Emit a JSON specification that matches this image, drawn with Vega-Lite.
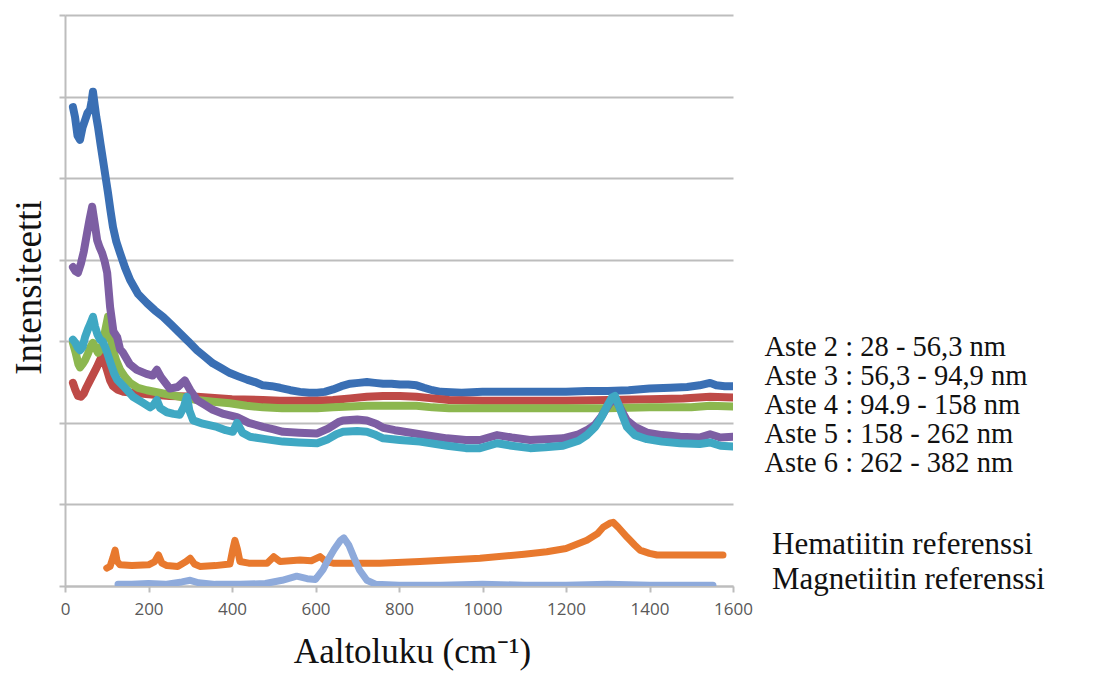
{
  "$schema": "https://vega.github.io/schema/vega-lite/v6.json",
  "width": 668,
  "height": 571,
  "autosize": {"type": "none"},
  "padding": {"left": 65, "top": 15, "right": 368, "bottom": 87},
  "background": "white",
  "config": {"view": {"stroke": null}},
  "datasets": {
    "aste": [
      {"s":"Aste 2 : 28 - 56,3 nm","x":19,"y":5.87},{"s":"Aste 2 : 28 - 56,3 nm","x":24,"y":5.75},{"s":"Aste 2 : 28 - 56,3 nm","x":30,"y":5.52},{"s":"Aste 2 : 28 - 56,3 nm","x":36,"y":5.47},{"s":"Aste 2 : 28 - 56,3 nm","x":42,"y":5.62},{"s":"Aste 2 : 28 - 56,3 nm","x":48,"y":5.71},{"s":"Aste 2 : 28 - 56,3 nm","x":54,"y":5.8},{"s":"Aste 2 : 28 - 56,3 nm","x":60,"y":5.84},{"s":"Aste 2 : 28 - 56,3 nm","x":64,"y":5.95},{"s":"Aste 2 : 28 - 56,3 nm","x":67,"y":6.06},{"s":"Aste 2 : 28 - 56,3 nm","x":71,"y":5.9},{"s":"Aste 2 : 28 - 56,3 nm","x":75,"y":5.75},{"s":"Aste 2 : 28 - 56,3 nm","x":79,"y":5.63},{"s":"Aste 2 : 28 - 56,3 nm","x":85,"y":5.42},{"s":"Aste 2 : 28 - 56,3 nm","x":91,"y":5.22},{"s":"Aste 2 : 28 - 56,3 nm","x":97,"y":5.02},{"s":"Aste 2 : 28 - 56,3 nm","x":103,"y":4.82},{"s":"Aste 2 : 28 - 56,3 nm","x":109,"y":4.6},{"s":"Aste 2 : 28 - 56,3 nm","x":115,"y":4.4},{"s":"Aste 2 : 28 - 56,3 nm","x":123,"y":4.22},{"s":"Aste 2 : 28 - 56,3 nm","x":132,"y":4.08},{"s":"Aste 2 : 28 - 56,3 nm","x":144,"y":3.9},{"s":"Aste 2 : 28 - 56,3 nm","x":156,"y":3.75},{"s":"Aste 2 : 28 - 56,3 nm","x":175,"y":3.58},{"s":"Aste 2 : 28 - 56,3 nm","x":196,"y":3.47},{"s":"Aste 2 : 28 - 56,3 nm","x":215,"y":3.38},{"s":"Aste 2 : 28 - 56,3 nm","x":235,"y":3.3},{"s":"Aste 2 : 28 - 56,3 nm","x":255,"y":3.2},{"s":"Aste 2 : 28 - 56,3 nm","x":275,"y":3.1},{"s":"Aste 2 : 28 - 56,3 nm","x":295,"y":3.0},{"s":"Aste 2 : 28 - 56,3 nm","x":316,"y":2.89},{"s":"Aste 2 : 28 - 56,3 nm","x":335,"y":2.81},{"s":"Aste 2 : 28 - 56,3 nm","x":354,"y":2.73},{"s":"Aste 2 : 28 - 56,3 nm","x":375,"y":2.67},{"s":"Aste 2 : 28 - 56,3 nm","x":395,"y":2.61},{"s":"Aste 2 : 28 - 56,3 nm","x":415,"y":2.57},{"s":"Aste 2 : 28 - 56,3 nm","x":436,"y":2.53},{"s":"Aste 2 : 28 - 56,3 nm","x":455,"y":2.5},{"s":"Aste 2 : 28 - 56,3 nm","x":474,"y":2.46},{"s":"Aste 2 : 28 - 56,3 nm","x":495,"y":2.45},{"s":"Aste 2 : 28 - 56,3 nm","x":515,"y":2.43},{"s":"Aste 2 : 28 - 56,3 nm","x":540,"y":2.4},{"s":"Aste 2 : 28 - 56,3 nm","x":563,"y":2.38},{"s":"Aste 2 : 28 - 56,3 nm","x":585,"y":2.37},{"s":"Aste 2 : 28 - 56,3 nm","x":604,"y":2.37},{"s":"Aste 2 : 28 - 56,3 nm","x":622,"y":2.38},{"s":"Aste 2 : 28 - 56,3 nm","x":642,"y":2.41},{"s":"Aste 2 : 28 - 56,3 nm","x":662,"y":2.45},{"s":"Aste 2 : 28 - 56,3 nm","x":683,"y":2.48},{"s":"Aste 2 : 28 - 56,3 nm","x":703,"y":2.49},{"s":"Aste 2 : 28 - 56,3 nm","x":723,"y":2.5},{"s":"Aste 2 : 28 - 56,3 nm","x":742,"y":2.49},{"s":"Aste 2 : 28 - 56,3 nm","x":762,"y":2.48},{"s":"Aste 2 : 28 - 56,3 nm","x":782,"y":2.48},{"s":"Aste 2 : 28 - 56,3 nm","x":802,"y":2.47},{"s":"Aste 2 : 28 - 56,3 nm","x":822,"y":2.47},{"s":"Aste 2 : 28 - 56,3 nm","x":842,"y":2.46},{"s":"Aste 2 : 28 - 56,3 nm","x":860,"y":2.43},{"s":"Aste 2 : 28 - 56,3 nm","x":880,"y":2.4},{"s":"Aste 2 : 28 - 56,3 nm","x":900,"y":2.38},{"s":"Aste 2 : 28 - 56,3 nm","x":950,"y":2.37},{"s":"Aste 2 : 28 - 56,3 nm","x":1000,"y":2.38},{"s":"Aste 2 : 28 - 56,3 nm","x":1050,"y":2.38},{"s":"Aste 2 : 28 - 56,3 nm","x":1100,"y":2.38},{"s":"Aste 2 : 28 - 56,3 nm","x":1150,"y":2.38},{"s":"Aste 2 : 28 - 56,3 nm","x":1200,"y":2.38},{"s":"Aste 2 : 28 - 56,3 nm","x":1250,"y":2.39},{"s":"Aste 2 : 28 - 56,3 nm","x":1300,"y":2.39},{"s":"Aste 2 : 28 - 56,3 nm","x":1350,"y":2.4},{"s":"Aste 2 : 28 - 56,3 nm","x":1400,"y":2.42},{"s":"Aste 2 : 28 - 56,3 nm","x":1450,"y":2.43},{"s":"Aste 2 : 28 - 56,3 nm","x":1490,"y":2.44},{"s":"Aste 2 : 28 - 56,3 nm","x":1520,"y":2.46},{"s":"Aste 2 : 28 - 56,3 nm","x":1545,"y":2.49},{"s":"Aste 2 : 28 - 56,3 nm","x":1560,"y":2.46},{"s":"Aste 2 : 28 - 56,3 nm","x":1580,"y":2.45},{"s":"Aste 2 : 28 - 56,3 nm","x":1600,"y":2.45},

      {"s":"Aste 3 : 56,3 - 94,9 nm","x":19,"y":2.49},{"s":"Aste 3 : 56,3 - 94,9 nm","x":25,"y":2.4},{"s":"Aste 3 : 56,3 - 94,9 nm","x":31,"y":2.33},{"s":"Aste 3 : 56,3 - 94,9 nm","x":38,"y":2.32},{"s":"Aste 3 : 56,3 - 94,9 nm","x":45,"y":2.36},{"s":"Aste 3 : 56,3 - 94,9 nm","x":52,"y":2.44},{"s":"Aste 3 : 56,3 - 94,9 nm","x":60,"y":2.52},{"s":"Aste 3 : 56,3 - 94,9 nm","x":68,"y":2.6},{"s":"Aste 3 : 56,3 - 94,9 nm","x":76,"y":2.68},{"s":"Aste 3 : 56,3 - 94,9 nm","x":83,"y":2.76},{"s":"Aste 3 : 56,3 - 94,9 nm","x":89,"y":2.82},{"s":"Aste 3 : 56,3 - 94,9 nm","x":95,"y":2.74},{"s":"Aste 3 : 56,3 - 94,9 nm","x":101,"y":2.64},{"s":"Aste 3 : 56,3 - 94,9 nm","x":108,"y":2.52},{"s":"Aste 3 : 56,3 - 94,9 nm","x":115,"y":2.45},{"s":"Aste 3 : 56,3 - 94,9 nm","x":125,"y":2.41},{"s":"Aste 3 : 56,3 - 94,9 nm","x":140,"y":2.38},{"s":"Aste 3 : 56,3 - 94,9 nm","x":163,"y":2.37},{"s":"Aste 3 : 56,3 - 94,9 nm","x":200,"y":2.35},{"s":"Aste 3 : 56,3 - 94,9 nm","x":250,"y":2.33},{"s":"Aste 3 : 56,3 - 94,9 nm","x":316,"y":2.32},{"s":"Aste 3 : 56,3 - 94,9 nm","x":400,"y":2.29},{"s":"Aste 3 : 56,3 - 94,9 nm","x":474,"y":2.28},{"s":"Aste 3 : 56,3 - 94,9 nm","x":515,"y":2.27},{"s":"Aste 3 : 56,3 - 94,9 nm","x":563,"y":2.27},{"s":"Aste 3 : 56,3 - 94,9 nm","x":604,"y":2.27},{"s":"Aste 3 : 56,3 - 94,9 nm","x":642,"y":2.28},{"s":"Aste 3 : 56,3 - 94,9 nm","x":683,"y":2.3},{"s":"Aste 3 : 56,3 - 94,9 nm","x":723,"y":2.32},{"s":"Aste 3 : 56,3 - 94,9 nm","x":762,"y":2.33},{"s":"Aste 3 : 56,3 - 94,9 nm","x":802,"y":2.33},{"s":"Aste 3 : 56,3 - 94,9 nm","x":842,"y":2.32},{"s":"Aste 3 : 56,3 - 94,9 nm","x":880,"y":2.3},{"s":"Aste 3 : 56,3 - 94,9 nm","x":920,"y":2.28},{"s":"Aste 3 : 56,3 - 94,9 nm","x":1000,"y":2.27},{"s":"Aste 3 : 56,3 - 94,9 nm","x":1100,"y":2.27},{"s":"Aste 3 : 56,3 - 94,9 nm","x":1200,"y":2.27},{"s":"Aste 3 : 56,3 - 94,9 nm","x":1300,"y":2.28},{"s":"Aste 3 : 56,3 - 94,9 nm","x":1400,"y":2.29},{"s":"Aste 3 : 56,3 - 94,9 nm","x":1480,"y":2.3},{"s":"Aste 3 : 56,3 - 94,9 nm","x":1545,"y":2.32},{"s":"Aste 3 : 56,3 - 94,9 nm","x":1600,"y":2.31},

      {"s":"Aste 4 : 94.9 - 158 nm","x":19,"y":2.98},{"s":"Aste 4 : 94.9 - 158 nm","x":26,"y":2.85},{"s":"Aste 4 : 94.9 - 158 nm","x":32,"y":2.72},{"s":"Aste 4 : 94.9 - 158 nm","x":36,"y":2.68},{"s":"Aste 4 : 94.9 - 158 nm","x":42,"y":2.72},{"s":"Aste 4 : 94.9 - 158 nm","x":48,"y":2.77},{"s":"Aste 4 : 94.9 - 158 nm","x":55,"y":2.85},{"s":"Aste 4 : 94.9 - 158 nm","x":61,"y":2.93},{"s":"Aste 4 : 94.9 - 158 nm","x":67,"y":2.98},{"s":"Aste 4 : 94.9 - 158 nm","x":73,"y":2.92},{"s":"Aste 4 : 94.9 - 158 nm","x":79,"y":2.86},{"s":"Aste 4 : 94.9 - 158 nm","x":85,"y":2.9},{"s":"Aste 4 : 94.9 - 158 nm","x":91,"y":2.98},{"s":"Aste 4 : 94.9 - 158 nm","x":97,"y":3.15},{"s":"Aste 4 : 94.9 - 158 nm","x":103,"y":3.3},{"s":"Aste 4 : 94.9 - 158 nm","x":108,"y":3.1},{"s":"Aste 4 : 94.9 - 158 nm","x":115,"y":2.89},{"s":"Aste 4 : 94.9 - 158 nm","x":123,"y":2.76},{"s":"Aste 4 : 94.9 - 158 nm","x":132,"y":2.65},{"s":"Aste 4 : 94.9 - 158 nm","x":144,"y":2.56},{"s":"Aste 4 : 94.9 - 158 nm","x":156,"y":2.49},{"s":"Aste 4 : 94.9 - 158 nm","x":175,"y":2.43},{"s":"Aste 4 : 94.9 - 158 nm","x":196,"y":2.4},{"s":"Aste 4 : 94.9 - 158 nm","x":235,"y":2.36},{"s":"Aste 4 : 94.9 - 158 nm","x":275,"y":2.32},{"s":"Aste 4 : 94.9 - 158 nm","x":316,"y":2.28},{"s":"Aste 4 : 94.9 - 158 nm","x":355,"y":2.26},{"s":"Aste 4 : 94.9 - 158 nm","x":395,"y":2.24},{"s":"Aste 4 : 94.9 - 158 nm","x":435,"y":2.21},{"s":"Aste 4 : 94.9 - 158 nm","x":474,"y":2.19},{"s":"Aste 4 : 94.9 - 158 nm","x":520,"y":2.18},{"s":"Aste 4 : 94.9 - 158 nm","x":563,"y":2.18},{"s":"Aste 4 : 94.9 - 158 nm","x":604,"y":2.18},{"s":"Aste 4 : 94.9 - 158 nm","x":642,"y":2.19},{"s":"Aste 4 : 94.9 - 158 nm","x":683,"y":2.2},{"s":"Aste 4 : 94.9 - 158 nm","x":723,"y":2.21},{"s":"Aste 4 : 94.9 - 158 nm","x":762,"y":2.21},{"s":"Aste 4 : 94.9 - 158 nm","x":802,"y":2.21},{"s":"Aste 4 : 94.9 - 158 nm","x":842,"y":2.21},{"s":"Aste 4 : 94.9 - 158 nm","x":880,"y":2.19},{"s":"Aste 4 : 94.9 - 158 nm","x":920,"y":2.18},{"s":"Aste 4 : 94.9 - 158 nm","x":1000,"y":2.18},{"s":"Aste 4 : 94.9 - 158 nm","x":1100,"y":2.18},{"s":"Aste 4 : 94.9 - 158 nm","x":1200,"y":2.18},{"s":"Aste 4 : 94.9 - 158 nm","x":1300,"y":2.18},{"s":"Aste 4 : 94.9 - 158 nm","x":1400,"y":2.19},{"s":"Aste 4 : 94.9 - 158 nm","x":1500,"y":2.19},{"s":"Aste 4 : 94.9 - 158 nm","x":1545,"y":2.21},{"s":"Aste 4 : 94.9 - 158 nm","x":1600,"y":2.2},

      {"s":"Aste 5 : 158 - 262 nm","x":19,"y":3.91},{"s":"Aste 5 : 158 - 262 nm","x":25,"y":3.86},{"s":"Aste 5 : 158 - 262 nm","x":31,"y":3.84},{"s":"Aste 5 : 158 - 262 nm","x":38,"y":3.95},{"s":"Aste 5 : 158 - 262 nm","x":45,"y":4.1},{"s":"Aste 5 : 158 - 262 nm","x":53,"y":4.33},{"s":"Aste 5 : 158 - 262 nm","x":59,"y":4.5},{"s":"Aste 5 : 158 - 262 nm","x":65,"y":4.65},{"s":"Aste 5 : 158 - 262 nm","x":71,"y":4.45},{"s":"Aste 5 : 158 - 262 nm","x":77,"y":4.24},{"s":"Aste 5 : 158 - 262 nm","x":83,"y":4.15},{"s":"Aste 5 : 158 - 262 nm","x":89,"y":4.08},{"s":"Aste 5 : 158 - 262 nm","x":95,"y":3.98},{"s":"Aste 5 : 158 - 262 nm","x":101,"y":3.84},{"s":"Aste 5 : 158 - 262 nm","x":108,"y":3.42},{"s":"Aste 5 : 158 - 262 nm","x":116,"y":3.12},{"s":"Aste 5 : 158 - 262 nm","x":125,"y":3.05},{"s":"Aste 5 : 158 - 262 nm","x":132,"y":2.9},{"s":"Aste 5 : 158 - 262 nm","x":139,"y":2.86},{"s":"Aste 5 : 158 - 262 nm","x":155,"y":2.72},{"s":"Aste 5 : 158 - 262 nm","x":172,"y":2.65},{"s":"Aste 5 : 158 - 262 nm","x":195,"y":2.6},{"s":"Aste 5 : 158 - 262 nm","x":210,"y":2.58},{"s":"Aste 5 : 158 - 262 nm","x":220,"y":2.65},{"s":"Aste 5 : 158 - 262 nm","x":230,"y":2.56},{"s":"Aste 5 : 158 - 262 nm","x":251,"y":2.42},{"s":"Aste 5 : 158 - 262 nm","x":270,"y":2.44},{"s":"Aste 5 : 158 - 262 nm","x":287,"y":2.52},{"s":"Aste 5 : 158 - 262 nm","x":300,"y":2.4},{"s":"Aste 5 : 158 - 262 nm","x":316,"y":2.28},{"s":"Aste 5 : 158 - 262 nm","x":335,"y":2.22},{"s":"Aste 5 : 158 - 262 nm","x":354,"y":2.16},{"s":"Aste 5 : 158 - 262 nm","x":380,"y":2.11},{"s":"Aste 5 : 158 - 262 nm","x":412,"y":2.07},{"s":"Aste 5 : 158 - 262 nm","x":440,"y":2.0},{"s":"Aste 5 : 158 - 262 nm","x":474,"y":1.95},{"s":"Aste 5 : 158 - 262 nm","x":500,"y":1.92},{"s":"Aste 5 : 158 - 262 nm","x":522,"y":1.89},{"s":"Aste 5 : 158 - 262 nm","x":560,"y":1.88},{"s":"Aste 5 : 158 - 262 nm","x":604,"y":1.87},{"s":"Aste 5 : 158 - 262 nm","x":630,"y":1.93},{"s":"Aste 5 : 158 - 262 nm","x":655,"y":2.01},{"s":"Aste 5 : 158 - 262 nm","x":666,"y":2.03},{"s":"Aste 5 : 158 - 262 nm","x":700,"y":2.04},{"s":"Aste 5 : 158 - 262 nm","x":723,"y":2.03},{"s":"Aste 5 : 158 - 262 nm","x":745,"y":1.99},{"s":"Aste 5 : 158 - 262 nm","x":762,"y":1.94},{"s":"Aste 5 : 158 - 262 nm","x":790,"y":1.91},{"s":"Aste 5 : 158 - 262 nm","x":802,"y":1.9},{"s":"Aste 5 : 158 - 262 nm","x":850,"y":1.86},{"s":"Aste 5 : 158 - 262 nm","x":915,"y":1.81},{"s":"Aste 5 : 158 - 262 nm","x":960,"y":1.79},{"s":"Aste 5 : 158 - 262 nm","x":994,"y":1.79},{"s":"Aste 5 : 158 - 262 nm","x":1035,"y":1.85},{"s":"Aste 5 : 158 - 262 nm","x":1070,"y":1.82},{"s":"Aste 5 : 158 - 262 nm","x":1114,"y":1.79},{"s":"Aste 5 : 158 - 262 nm","x":1150,"y":1.8},{"s":"Aste 5 : 158 - 262 nm","x":1193,"y":1.81},{"s":"Aste 5 : 158 - 262 nm","x":1230,"y":1.86},{"s":"Aste 5 : 158 - 262 nm","x":1250,"y":1.91},{"s":"Aste 5 : 158 - 262 nm","x":1270,"y":1.98},{"s":"Aste 5 : 158 - 262 nm","x":1285,"y":2.08},{"s":"Aste 5 : 158 - 262 nm","x":1298,"y":2.19},{"s":"Aste 5 : 158 - 262 nm","x":1310,"y":2.28},{"s":"Aste 5 : 158 - 262 nm","x":1317,"y":2.3},{"s":"Aste 5 : 158 - 262 nm","x":1326,"y":2.22},{"s":"Aste 5 : 158 - 262 nm","x":1336,"y":2.12},{"s":"Aste 5 : 158 - 262 nm","x":1346,"y":2.03},{"s":"Aste 5 : 158 - 262 nm","x":1365,"y":1.95},{"s":"Aste 5 : 158 - 262 nm","x":1394,"y":1.88},{"s":"Aste 5 : 158 - 262 nm","x":1430,"y":1.85},{"s":"Aste 5 : 158 - 262 nm","x":1473,"y":1.83},{"s":"Aste 5 : 158 - 262 nm","x":1520,"y":1.82},{"s":"Aste 5 : 158 - 262 nm","x":1545,"y":1.86},{"s":"Aste 5 : 158 - 262 nm","x":1570,"y":1.82},{"s":"Aste 5 : 158 - 262 nm","x":1600,"y":1.83},

      {"s":"Aste 6 : 262 - 382 nm","x":19,"y":3.02},{"s":"Aste 6 : 262 - 382 nm","x":25,"y":2.98},{"s":"Aste 6 : 262 - 382 nm","x":31,"y":2.92},{"s":"Aste 6 : 262 - 382 nm","x":36,"y":2.89},{"s":"Aste 6 : 262 - 382 nm","x":42,"y":2.93},{"s":"Aste 6 : 262 - 382 nm","x":48,"y":3.05},{"s":"Aste 6 : 262 - 382 nm","x":55,"y":3.15},{"s":"Aste 6 : 262 - 382 nm","x":61,"y":3.22},{"s":"Aste 6 : 262 - 382 nm","x":67,"y":3.3},{"s":"Aste 6 : 262 - 382 nm","x":72,"y":3.18},{"s":"Aste 6 : 262 - 382 nm","x":78,"y":3.08},{"s":"Aste 6 : 262 - 382 nm","x":84,"y":3.02},{"s":"Aste 6 : 262 - 382 nm","x":90,"y":3.0},{"s":"Aste 6 : 262 - 382 nm","x":96,"y":2.93},{"s":"Aste 6 : 262 - 382 nm","x":101,"y":2.86},{"s":"Aste 6 : 262 - 382 nm","x":110,"y":2.72},{"s":"Aste 6 : 262 - 382 nm","x":118,"y":2.6},{"s":"Aste 6 : 262 - 382 nm","x":125,"y":2.53},{"s":"Aste 6 : 262 - 382 nm","x":140,"y":2.45},{"s":"Aste 6 : 262 - 382 nm","x":163,"y":2.32},{"s":"Aste 6 : 262 - 382 nm","x":185,"y":2.25},{"s":"Aste 6 : 262 - 382 nm","x":204,"y":2.19},{"s":"Aste 6 : 262 - 382 nm","x":212,"y":2.22},{"s":"Aste 6 : 262 - 382 nm","x":220,"y":2.28},{"s":"Aste 6 : 262 - 382 nm","x":228,"y":2.18},{"s":"Aste 6 : 262 - 382 nm","x":244,"y":2.13},{"s":"Aste 6 : 262 - 382 nm","x":260,"y":2.11},{"s":"Aste 6 : 262 - 382 nm","x":275,"y":2.1},{"s":"Aste 6 : 262 - 382 nm","x":285,"y":2.2},{"s":"Aste 6 : 262 - 382 nm","x":292,"y":2.32},{"s":"Aste 6 : 262 - 382 nm","x":298,"y":2.15},{"s":"Aste 6 : 262 - 382 nm","x":307,"y":2.03},{"s":"Aste 6 : 262 - 382 nm","x":330,"y":1.99},{"s":"Aste 6 : 262 - 382 nm","x":364,"y":1.95},{"s":"Aste 6 : 262 - 382 nm","x":385,"y":1.91},{"s":"Aste 6 : 262 - 382 nm","x":402,"y":1.89},{"s":"Aste 6 : 262 - 382 nm","x":412,"y":2.0},{"s":"Aste 6 : 262 - 382 nm","x":425,"y":1.88},{"s":"Aste 6 : 262 - 382 nm","x":443,"y":1.83},{"s":"Aste 6 : 262 - 382 nm","x":480,"y":1.8},{"s":"Aste 6 : 262 - 382 nm","x":522,"y":1.77},{"s":"Aste 6 : 262 - 382 nm","x":560,"y":1.76},{"s":"Aste 6 : 262 - 382 nm","x":604,"y":1.75},{"s":"Aste 6 : 262 - 382 nm","x":630,"y":1.8},{"s":"Aste 6 : 262 - 382 nm","x":650,"y":1.86},{"s":"Aste 6 : 262 - 382 nm","x":666,"y":1.89},{"s":"Aste 6 : 262 - 382 nm","x":700,"y":1.9},{"s":"Aste 6 : 262 - 382 nm","x":723,"y":1.89},{"s":"Aste 6 : 262 - 382 nm","x":745,"y":1.85},{"s":"Aste 6 : 262 - 382 nm","x":762,"y":1.81},{"s":"Aste 6 : 262 - 382 nm","x":802,"y":1.79},{"s":"Aste 6 : 262 - 382 nm","x":850,"y":1.77},{"s":"Aste 6 : 262 - 382 nm","x":915,"y":1.72},{"s":"Aste 6 : 262 - 382 nm","x":960,"y":1.69},{"s":"Aste 6 : 262 - 382 nm","x":994,"y":1.69},{"s":"Aste 6 : 262 - 382 nm","x":1035,"y":1.75},{"s":"Aste 6 : 262 - 382 nm","x":1070,"y":1.72},{"s":"Aste 6 : 262 - 382 nm","x":1114,"y":1.69},{"s":"Aste 6 : 262 - 382 nm","x":1150,"y":1.7},{"s":"Aste 6 : 262 - 382 nm","x":1193,"y":1.72},{"s":"Aste 6 : 262 - 382 nm","x":1230,"y":1.78},{"s":"Aste 6 : 262 - 382 nm","x":1250,"y":1.85},{"s":"Aste 6 : 262 - 382 nm","x":1270,"y":1.95},{"s":"Aste 6 : 262 - 382 nm","x":1285,"y":2.07},{"s":"Aste 6 : 262 - 382 nm","x":1298,"y":2.2},{"s":"Aste 6 : 262 - 382 nm","x":1310,"y":2.31},{"s":"Aste 6 : 262 - 382 nm","x":1317,"y":2.33},{"s":"Aste 6 : 262 - 382 nm","x":1326,"y":2.22},{"s":"Aste 6 : 262 - 382 nm","x":1336,"y":2.08},{"s":"Aste 6 : 262 - 382 nm","x":1346,"y":1.95},{"s":"Aste 6 : 262 - 382 nm","x":1365,"y":1.85},{"s":"Aste 6 : 262 - 382 nm","x":1394,"y":1.8},{"s":"Aste 6 : 262 - 382 nm","x":1430,"y":1.77},{"s":"Aste 6 : 262 - 382 nm","x":1473,"y":1.75},{"s":"Aste 6 : 262 - 382 nm","x":1520,"y":1.74},{"s":"Aste 6 : 262 - 382 nm","x":1545,"y":1.76},{"s":"Aste 6 : 262 - 382 nm","x":1570,"y":1.72},{"s":"Aste 6 : 262 - 382 nm","x":1600,"y":1.71}
    ],
    "ref": [
      {"s":"Hematiitin referenssi","x":100,"y":0.22},{"s":"Hematiitin referenssi","x":108,"y":0.24},{"s":"Hematiitin referenssi","x":115,"y":0.35},{"s":"Hematiitin referenssi","x":120,"y":0.44},{"s":"Hematiitin referenssi","x":125,"y":0.3},{"s":"Hematiitin referenssi","x":132,"y":0.26},{"s":"Hematiitin referenssi","x":160,"y":0.25},{"s":"Hematiitin referenssi","x":200,"y":0.26},{"s":"Hematiitin referenssi","x":215,"y":0.3},{"s":"Hematiitin referenssi","x":224,"y":0.38},{"s":"Hematiitin referenssi","x":232,"y":0.28},{"s":"Hematiitin referenssi","x":244,"y":0.25},{"s":"Hematiitin referenssi","x":270,"y":0.24},{"s":"Hematiitin referenssi","x":290,"y":0.3},{"s":"Hematiitin referenssi","x":300,"y":0.34},{"s":"Hematiitin referenssi","x":310,"y":0.27},{"s":"Hematiitin referenssi","x":323,"y":0.24},{"s":"Hematiitin referenssi","x":360,"y":0.25},{"s":"Hematiitin referenssi","x":395,"y":0.27},{"s":"Hematiitin referenssi","x":402,"y":0.45},{"s":"Hematiitin referenssi","x":407,"y":0.56},{"s":"Hematiitin referenssi","x":413,"y":0.45},{"s":"Hematiitin referenssi","x":419,"y":0.3},{"s":"Hematiitin referenssi","x":440,"y":0.28},{"s":"Hematiitin referenssi","x":484,"y":0.28},{"s":"Hematiitin referenssi","x":500,"y":0.36},{"s":"Hematiitin referenssi","x":515,"y":0.3},{"s":"Hematiitin referenssi","x":563,"y":0.32},{"s":"Hematiitin referenssi","x":590,"y":0.31},{"s":"Hematiitin referenssi","x":611,"y":0.36},{"s":"Hematiitin referenssi","x":625,"y":0.3},{"s":"Hematiitin referenssi","x":642,"y":0.28},{"s":"Hematiitin referenssi","x":700,"y":0.28},{"s":"Hematiitin referenssi","x":754,"y":0.28},{"s":"Hematiitin referenssi","x":850,"y":0.3},{"s":"Hematiitin referenssi","x":994,"y":0.34},{"s":"Hematiitin referenssi","x":1100,"y":0.39},{"s":"Hematiitin referenssi","x":1154,"y":0.42},{"s":"Hematiitin referenssi","x":1200,"y":0.46},{"s":"Hematiitin referenssi","x":1250,"y":0.56},{"s":"Hematiitin referenssi","x":1275,"y":0.64},{"s":"Hematiitin referenssi","x":1289,"y":0.72},{"s":"Hematiitin referenssi","x":1305,"y":0.77},{"s":"Hematiitin referenssi","x":1313,"y":0.78},{"s":"Hematiitin referenssi","x":1325,"y":0.72},{"s":"Hematiitin referenssi","x":1346,"y":0.6},{"s":"Hematiitin referenssi","x":1365,"y":0.5},{"s":"Hematiitin referenssi","x":1377,"y":0.44},{"s":"Hematiitin referenssi","x":1400,"y":0.4},{"s":"Hematiitin referenssi","x":1418,"y":0.38},{"s":"Hematiitin referenssi","x":1450,"y":0.38},{"s":"Hematiitin referenssi","x":1500,"y":0.38},{"s":"Hematiitin referenssi","x":1576,"y":0.38},

      {"s":"Magnetiitin referenssi","x":127,"y":0.02},{"s":"Magnetiitin referenssi","x":160,"y":0.02},{"s":"Magnetiitin referenssi","x":200,"y":0.03},{"s":"Magnetiitin referenssi","x":240,"y":0.02},{"s":"Magnetiitin referenssi","x":280,"y":0.05},{"s":"Magnetiitin referenssi","x":300,"y":0.07},{"s":"Magnetiitin referenssi","x":320,"y":0.04},{"s":"Magnetiitin referenssi","x":360,"y":0.02},{"s":"Magnetiitin referenssi","x":420,"y":0.02},{"s":"Magnetiitin referenssi","x":480,"y":0.03},{"s":"Magnetiitin referenssi","x":520,"y":0.07},{"s":"Magnetiitin referenssi","x":555,"y":0.12},{"s":"Magnetiitin referenssi","x":580,"y":0.09},{"s":"Magnetiitin referenssi","x":600,"y":0.08},{"s":"Magnetiitin referenssi","x":618,"y":0.2},{"s":"Magnetiitin referenssi","x":630,"y":0.32},{"s":"Magnetiitin referenssi","x":645,"y":0.45},{"s":"Magnetiitin referenssi","x":660,"y":0.56},{"s":"Magnetiitin referenssi","x":668,"y":0.59},{"s":"Magnetiitin referenssi","x":680,"y":0.5},{"s":"Magnetiitin referenssi","x":692,"y":0.35},{"s":"Magnetiitin referenssi","x":705,"y":0.2},{"s":"Magnetiitin referenssi","x":723,"y":0.07},{"s":"Magnetiitin referenssi","x":745,"y":0.02},{"s":"Magnetiitin referenssi","x":800,"y":0.01},{"s":"Magnetiitin referenssi","x":900,"y":0.01},{"s":"Magnetiitin referenssi","x":1000,"y":0.02},{"s":"Magnetiitin referenssi","x":1100,"y":0.01},{"s":"Magnetiitin referenssi","x":1200,"y":0.01},{"s":"Magnetiitin referenssi","x":1300,"y":0.02},{"s":"Magnetiitin referenssi","x":1400,"y":0.01},{"s":"Magnetiitin referenssi","x":1500,"y":0.01},{"s":"Magnetiitin referenssi","x":1552,"y":0.01}
    ]
  },
  "encoding": {
    "x": {
      "field": "x", "type": "quantitative",
      "scale": {"domain": [0, 1600], "nice": false, "zero": false},
      "axis": {
        "values": [0, 200, 400, 600, 800, 1000, 1200, 1400, 1600],
        "format": "d",
        "grid": false,
        "domainColor": "#bdbdbd", "domainWidth": 2,
        "tickColor": "#bdbdbd", "tickWidth": 2, "tickSize": 6,
        "labelFont": "Open Sans", "labelFontSize": 17, "labelColor": "#595959",
        "labelPadding": 9, "labelFlush": false,
        "title": "Aaltoluku (cm⁻¹)",
        "titleFont": "Liberation Serif", "titleFontSize": 35, "titleFontWeight": "normal",
        "titleColor": "#111111", "titleX": 347, "titleY": 76,
        "titleAlign": "center", "titleBaseline": "alphabetic"
      }
    },
    "y": {
      "field": "y", "type": "quantitative",
      "scale": {"domain": [0, 7], "nice": false},
      "axis": {
        "values": [0, 1, 2, 3, 4, 5, 6, 7],
        "labels": false,
        "grid": true, "gridColor": "#bdbdbd", "gridWidth": 2,
        "domainColor": "#bdbdbd", "domainWidth": 2,
        "tickColor": "#bdbdbd", "tickWidth": 2, "tickSize": 6,
        "title": "Intensiteetti",
        "titleFont": "Liberation Serif", "titleFontSize": 37, "titleFontWeight": "normal",
        "titleColor": "#111111", "titleAngle": -90,
        "titleX": -25, "titleY": 272,
        "titleAlign": "center", "titleBaseline": "alphabetic"
      }
    }
  },
  "layer": [
    {
      "data": {"name": "aste"},
      "mark": {"type": "line", "strokeWidth": 8, "strokeCap": "round", "strokeJoin": "round", "clip": true},
      "encoding": {
        "color": {
          "field": "s", "type": "nominal",
          "scale": {
            "domain": ["Aste 2 : 28 - 56,3 nm", "Aste 3 : 56,3 - 94,9 nm", "Aste 4 : 94.9 - 158 nm", "Aste 5 : 158 - 262 nm", "Aste 6 : 262 - 382 nm"],
            "range": ["#3a6fb4", "#be4a47", "#8cb74f", "#7d5ea3", "#3fa8c3"]
          },
          "legend": {
            "title": null, "orient": "none", "legendX": 671, "legendY": 318,
            "padding": 0, "offset": 0,
            "symbolSize": 0, "symbolOpacity": 0, "symbolStrokeWidth": 0, "labelOffset": 0,
            "labelFont": "Liberation Serif", "labelFontSize": 28.5, "labelColor": "#111111",
            "rowPadding": 0, "labelLimit": 400
          }
        }
      }
    },
    {
      "data": {"name": "ref"},
      "mark": {"type": "line", "strokeWidth": 7, "strokeCap": "round", "strokeJoin": "round", "clip": true},
      "encoding": {
        "color": {
          "field": "s", "type": "nominal",
          "scale": {
            "domain": ["Hematiitin referenssi", "Magnetiitin referenssi"],
            "range": ["#e8792e", "#8eaadb"]
          },
          "legend": {
            "title": null, "orient": "none", "legendX": 676, "legendY": 514,
            "padding": 0, "offset": 0,
            "symbolSize": 0, "symbolOpacity": 0, "symbolStrokeWidth": 0, "labelOffset": 0,
            "labelFont": "Liberation Serif", "labelFontSize": 31, "labelColor": "#111111",
            "rowPadding": 3, "labelLimit": 400
          }
        }
      }
    }
  ],
  "resolve": {"scale": {"color": "independent"}, "legend": {"color": "independent"}}
}
